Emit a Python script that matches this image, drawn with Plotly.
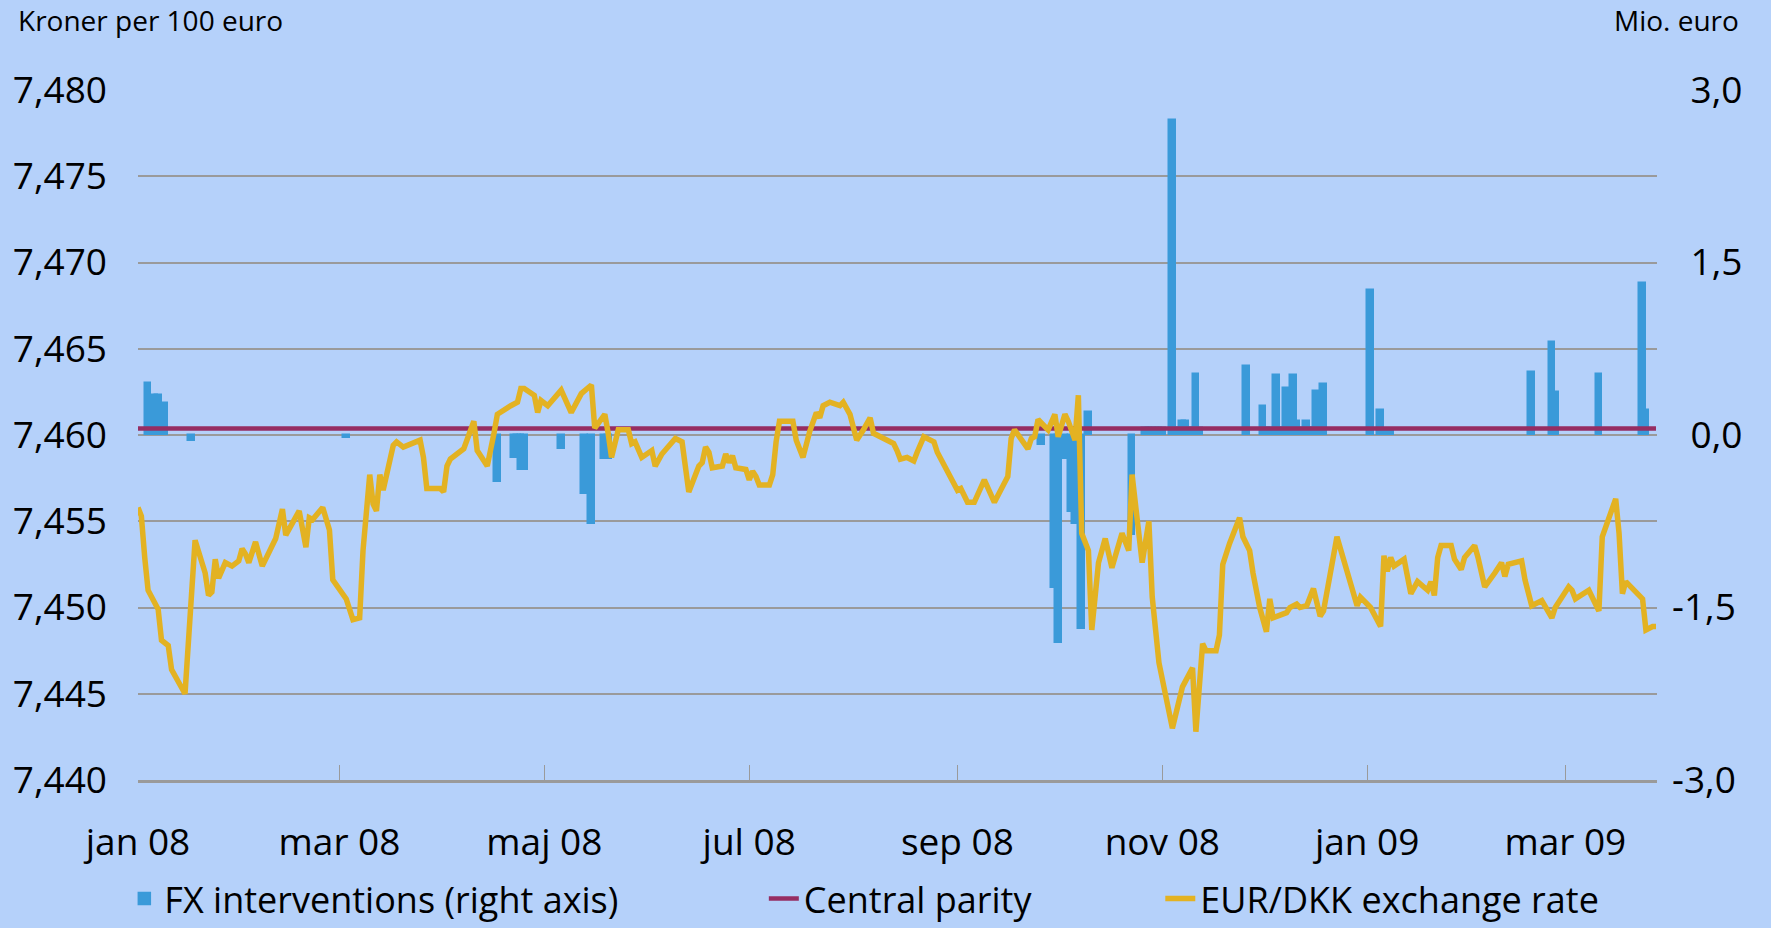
import pandas as pd
import plotly.graph_objects as go

# ---- data ----
BASE_DATE = "2008-01-01"
rate_days = [0,1,2,3,6,7,9,10,14,16,17,20,21,22,23,24,26,28,30,31,32,33,35,37,41,43,44,48,50,51,52,55,57,58,62,64,66,67,69,70,71,72,73,76,77,79,84,85,86,90,
             91,92,93,97,98,100,101,104,106,107,111,113,114,115,118,119,120,122,126,129,132,135,136,139,140,141,143,146,147,148,150,153,154,156,160,162,164,167,168,169,170,171,174,175,176,177,178,
             181,182,183,184,185,188,189,190,191,195,196,198,200,202,203,204,206,209,210,212,214,216,218,219,221,223,225,226,227,229,231,232,234,237,238,241,244,245,247,249,252,255,258,259,260,261,265,266,267,268,
             271,273,274,276,277,279,280,281,283,284,286,288,290,293,295,296,299,301,302,304,308,311,314,315,317,318,321,322,323,325,328,329,331,332,334,336,337,338,342,343,345,346,348,350,352,353,357,
             363,364,367,370,371,372,373,374,377,379,381,384,385,386,387,388,391,392,394,395,398,399,401,404,406,407,408,412,413,415,418,421,422,426,427,428,432,435,436,440,441,442,443,448,449,451,452]
eur_dkk = [7.4558,7.4553,7.4529,7.4510,7.4499,7.4481,7.4478,7.4464,7.4450,7.4514,7.4539,7.4520,7.4507,7.4509,7.4528,7.4517,7.4526,7.4524,7.4527,7.4534,7.4531,7.4526,7.4538,7.4524,7.4540,7.4557,7.4542,7.4556,7.4535,7.4552,7.4551,7.4558,7.4545,7.4516,7.4505,7.4493,7.4494,7.4533,7.4577,7.4560,7.4556,7.4577,7.4568,7.4594,7.4596,7.4593,7.4597,7.4587,7.4569,7.4569,
           7.4567,7.4582,7.4586,7.4592,7.4597,7.4608,7.4591,7.4582,7.4601,7.4612,7.4617,7.4619,7.4627,7.4627,7.4623,7.4613,7.4620,7.4617,7.4626,7.4613,7.4624,7.4629,7.4604,7.4612,7.4601,7.4587,7.4603,7.4603,7.4595,7.4596,7.4587,7.4591,7.4582,7.4589,7.4598,7.4596,7.4567,7.4582,7.4584,7.4593,7.4590,7.4581,7.4582,7.4589,7.4584,7.4588,7.4581,
           7.4580,7.4574,7.4579,7.4576,7.4571,7.4571,7.4577,7.4596,7.4608,7.4608,7.4597,7.4587,7.4602,7.4613,7.4610,7.4617,7.4619,7.4617,7.4619,7.4612,7.4597,7.4603,7.4610,7.4601,7.4599,7.4597,7.4595,7.4591,7.4586,7.4587,7.4585,7.4590,7.4599,7.4596,7.4590,7.4579,7.4568,7.4569,7.4561,7.4561,7.4574,7.4561,7.4572,7.4576,7.4598,7.4603,7.4592,7.4598,7.4599,7.4609,
           7.4603,7.4612,7.4599,7.4612,7.4608,7.4597,7.4623,7.4543,7.4533,7.4487,7.4526,7.4540,7.4523,7.4543,7.4533,7.4577,7.4526,7.4550,7.4506,7.4468,7.4430,7.4454,7.4465,7.4428,7.4479,7.4475,7.4475,7.4484,7.4525,7.4537,7.4552,7.4541,7.4533,7.4520,7.4500,7.4486,7.4505,7.4494,7.4497,7.4500,7.4502,7.4500,7.4501,7.4511,7.4495,7.4498,7.4541,
           7.4501,7.4506,7.4500,7.4489,7.4530,7.4521,7.4529,7.4524,7.4528,7.4508,7.4515,7.4510,7.4515,7.4507,7.4529,7.4536,7.4536,7.4528,7.4522,7.4529,7.4536,7.4529,7.4512,7.4520,7.4526,7.4518,7.4525,7.4527,7.4516,7.4501,7.4504,7.4494,7.4500,7.4512,7.4510,7.4505,7.4510,7.4498,7.4541,7.4563,7.4543,7.4508,7.4515,7.4505,7.4487,7.4489,7.4489]

fx_days = [3,5,6,8,16,62,107,112,113,114,115,126,133,135,139,140,269,273,274,276,278,279,281,283,296,
           300,301,302,303,304,305,308,309,310,311,312,313,314,315,316,330,335,336,337,339,340,341,342,343,344,345,347,348,349,350,351,352,353,
           367,370,371,372,373,415,421,422,435,448,449]
fx_interventions = [0.45,0.35,0.35,0.28,-0.05,-0.03,-0.41,-0.20,-0.20,-0.30,-0.30,-0.12,-0.51,-0.77,-0.21,-0.21,-0.09,-1.33,-1.81,-0.21,-0.67,-0.77,-1.69,0.20,-0.87,
                    0.06,0.06,0.06,0.06,0.06,0.06,2.74,0.06,0.06,0.12,0.12,0.06,0.06,0.53,0.06,0.60,0.25,0.06,0.06,0.52,0.06,0.06,0.41,0.06,0.52,0.12,0.06,0.12,0.06,0.06,0.38,0.06,0.44,
                    1.26,0.22,0.05,0.05,0.05,0.55,0.81,0.37,0.53,1.32,0.22]

central_parity = 7.46038
parity_days = [0, 452]

tick_dates = ["2008-01-01","2008-03-01","2008-05-01","2008-07-01","2008-09-01","2008-11-01","2009-01-01","2009-03-01"]
tick_labels = ["jan 08","mar 08","maj 08","jul 08","sep 08","nov 08","jan 09","mar 09"]
right_ticks = [-3.0,-2.25,-1.5,-0.75,0.0,0.75,1.5,2.25,3.0]
right_labels = ["-3,0","","-1,5","","\u20020,0","","\u20021,5","","\u20023,0"]

base = pd.Timestamp(BASE_DATE)
to_dates = lambda d: base + pd.to_timedelta(d, unit="D")

FONT = "Open Sans"
BG = "#b5d1fa"
GRID = "#9a9a9a"
BAR_COLOR = "#3a9ad9"

fig = go.Figure()
fig.add_trace(go.Bar(x=to_dates(fx_days), y=fx_interventions, name="FX interventions (right axis)",
                     marker=dict(color=BAR_COLOR, line=dict(width=1.5, color=BAR_COLOR)), width=2.0*86400000,
                     yaxis="y", legend="legend", showlegend=True))
fig.add_trace(go.Scatter(x=to_dates(parity_days), y=[central_parity]*len(parity_days), mode="lines",
                         name="Central parity", line=dict(color="#962d62", width=4.5), yaxis="y2",
                         legend="legend2", showlegend=True))
fig.add_trace(go.Scatter(x=to_dates(rate_days), y=eur_dkk, mode="lines", name="EUR/DKK exchange rate",
                         line=dict(color="#e3b222", width=5.5), yaxis="y2", legend="legend3", showlegend=True))

legend_common = dict(orientation="h", yanchor="middle", y=-0.172, xanchor="left",
                     bgcolor="rgba(0,0,0,0)", font=dict(family=FONT, size=36, color="#000000"))
fig.update_layout(
    width=1771, height=928,
    paper_bgcolor=BG, plot_bgcolor=BG,
    margin=dict(l=138, r=114, t=90, b=148, autoexpand=False),
    separators=",.",
    showlegend=True,
    font=dict(family=FONT, color="#000000"),
    bargap=0,
    xaxis=dict(type="date", range=[to_dates(0), to_dates(452.3)], automargin=False,
               tickvals=tick_dates, ticktext=tick_labels,
               tickfont=dict(family=FONT, size=37),
               ticks="inside", ticklen=15, tickcolor=GRID, tickwidth=1,
               showline=True, linecolor=GRID, linewidth=3, showgrid=False,
               ticklabelstandoff=28),
    yaxis=dict(range=[-3, 3], side="right", tickvals=right_ticks, ticktext=right_labels, automargin=False,
               tickfont=dict(family=FONT, size=37), showgrid=True, gridcolor=GRID, gridwidth=2,
               zeroline=False, showline=False, ticks="", ticklabelstandoff=14),
    yaxis2=dict(range=[7.44, 7.48], side="left", overlaying="y", dtick=0.005, tick0=7.44, automargin=False,
                tickformat=".3f", tickfont=dict(family=FONT, size=37), showgrid=False,
                zeroline=False, showline=False, ticks="", ticklabelstandoff=30),
    legend=dict(**legend_common, x=-0.009),
    legend2=dict(**legend_common, x=0.412),
    legend3=dict(**legend_common, x=0.673),
    annotations=[
        dict(text="Kroner per 100 euro", xref="paper", yref="paper", x=-0.080, y=1.101,
             xanchor="left", yanchor="middle", showarrow=False, font=dict(family=FONT, size=28)),
        dict(text="Mio. euro", xref="paper", yref="paper", x=1.0553, y=1.101,
             xanchor="right", yanchor="middle", showarrow=False, font=dict(family=FONT, size=28)),
    ],
)

fig.write_html("out.html", config={"displayModeBar": False},
               post_script="document.body.style.margin='0';document.body.style.padding='0';")
